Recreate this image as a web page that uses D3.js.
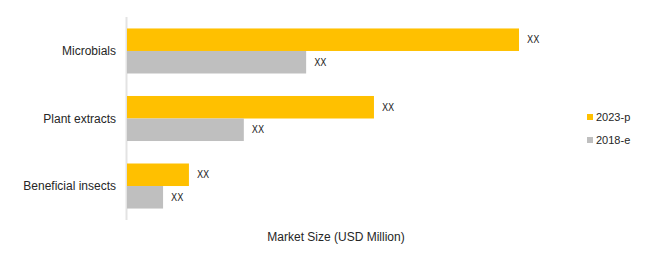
<!DOCTYPE html>
<html>
<head>
<meta charset="utf-8">
<script src="https://cdn.jsdelivr.net/npm/d3@7"></script>
<style>
  body { margin: 0; background: #fff; }
  text { font-family: "Liberation Sans", Arial, sans-serif; fill: #262626; }
</style>
</head>
<body>
<svg id="canvas" width="650" height="260"></svg>
<script>
// chart data
const categories = ['Microbials', 'Plant extracts', 'Beneficial insects'];
const seriesNames = ['2023-p', '2018-e'];
const values2023 = [100, 63, 15.8];
const values2018 = [45.7, 29.8, 9.2];
const valueLabels = ['XX', 'XX'];
const axisTitle = 'Market Size (USD Million)';

const colors = ['#FFC000', '#BFBFBF'];

const svg = d3.select('#canvas');

const x = d3.scaleLinear()
    .domain([0, 100])
    .range([127, 519]);

const y = d3.scaleBand()
    .domain(categories)
    .range([18, 219])
    .paddingInner(0.333)
    .paddingOuter(0.155);

const sub = d3.scaleBand()
    .domain(seriesNames)
    .range([0, y.bandwidth()]);

// vertical axis line
svg.append('line')
    .attr('x1', 126.5).attr('x2', 126.5)
    .attr('y1', 17).attr('y2', 220)
    .attr('stroke', '#e3e3e3')
    .attr('stroke-width', 2);

const rows = categories.map((c, i) => ({
    cat: c,
    vals: [values2023[i], values2018[i]]
}));

const g = svg.append('g');
const groups = g.selectAll('g.row')
    .data(rows)
    .enter().append('g')
    .attr('class', 'row')
    .attr('transform', d => 'translate(0,' + y(d.cat) + ')');

groups.selectAll('rect')
    .data(d => d.vals.map((v, j) => ({ v: v, s: seriesNames[j], j: j })))
    .enter().append('rect')
    .attr('x', x(0))
    .attr('y', d => sub(d.s))
    .attr('width', d => x(d.v) - x(0))
    .attr('height', sub.bandwidth())
    .attr('fill', d => colors[d.j]);

groups.selectAll('text.val')
    .data(d => d.vals.map((v, j) => ({ v: v, s: seriesNames[j], j: j })))
    .enter().append('text')
    .attr('class', 'val')
    .attr('x', d => x(d.v) + 8)
    .attr('y', d => sub(d.s) + sub.bandwidth() / 2)
    .attr('dominant-baseline', 'central')
    .style('font-family', '"DejaVu Sans Condensed", sans-serif')
    .style('font-size', '10px')
    .text(d => valueLabels[d.j]);

// category labels
svg.selectAll('text.cat')
    .data(categories)
    .enter().append('text')
    .attr('class', 'cat')
    .attr('x', 116)
    .attr('y', d => y(d) + y.bandwidth() / 2)
    .attr('text-anchor', 'end')
    .attr('dominant-baseline', 'central')
    .style('font-size', '12px')
    .text(d => d);

// axis title
svg.append('text')
    .attr('x', 336)
    .attr('y', 241)
    .attr('text-anchor', 'middle')
    .style('font-size', '12px')
    .text(axisTitle);

// legend
const legend = svg.append('g')
    .attr('transform', 'translate(587,114)');
const li = legend.selectAll('g')
    .data(seriesNames)
    .enter().append('g')
    .attr('transform', (d, i) => 'translate(0,' + i * 23 + ')');
li.append('rect')
    .attr('width', 6).attr('height', 6)
    .attr('fill', (d, i) => colors[i]);
li.append('text')
    .attr('x', 9)
    .attr('y', 3)
    .attr('dominant-baseline', 'central')
    .style('font-size', '11px')
    .text(d => d);
</script>
</body>
</html>
